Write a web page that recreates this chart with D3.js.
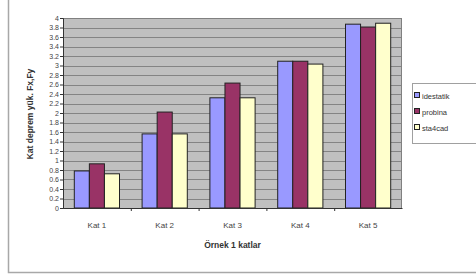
<!DOCTYPE html>
<html><head><meta charset="utf-8">
<script src="https://cdn.jsdelivr.net/npm/d3@7"></script>
<style>body{margin:0;background:#fff;}svg{display:block;font-family:"Liberation Sans",Arial,sans-serif;}</style>
</head><body>
<svg id="c" width="476" height="277"></svg>
<script>
const categories = ["Kat 1","Kat 2","Kat 3","Kat 4","Kat 5"];
const seriesNames = ["idestatik","probina","sta4cad"];
const idestatik = [0.78, 1.56, 2.32, 3.09, 3.87];
const probina   = [0.93, 2.02, 2.63, 3.09, 3.81];
const sta4cad   = [0.72, 1.56, 2.32, 3.03, 3.89];
const yTicks = [0,0.2,0.4,0.6,0.8,1,1.2,1.4,1.6,1.8,2,2.2,2.4,2.6,2.8,3,3.2,3.4,3.6,3.8,4];
const colors = ["#9999FF","#993366","#FFFFCC"];
const yTitle = "Kat deprem yük. Fx,Fy";
const xTitle = "Örnek 1 katlar";

const svg = d3.select("#c");
// outer chart border
svg.append("rect").attr("x",8.5).attr("y",-3).attr("width",480).attr("height",275.5)
  .attr("fill","#fff").attr("stroke","#a8a8a8").attr("stroke-width",1.5);

const L=63, T=18, R=402, B=208;
const x = d3.scaleBand().domain(categories).range([L,R]).paddingInner(0).paddingOuter(0);
const y = d3.scaleLinear().domain([0,4]).range([B,T]);

svg.append("rect").attr("x",L).attr("y",T).attr("width",R-L).attr("height",B-T).attr("fill","#C0C0C0");
svg.append("g").selectAll("line").data(yTicks.slice(1)).join("line")
  .attr("x1",L).attr("x2",R).attr("y1",d=>Math.round(y(d))+0.5).attr("y2",d=>Math.round(y(d))+0.5)
  .attr("stroke","#848484").attr("stroke-width",1);
svg.append("rect").attr("x",L+0.5).attr("y",T+0.5).attr("width",R-L-1).attr("height",B-T)
  .attr("fill","none").attr("stroke","#808080");

const data = [idestatik, probina, sta4cad];
const bw = x.bandwidth()/4.5;
const gx = d3.scaleBand().domain(d3.range(3)).range([0, bw*3]);
const g = svg.append("g");
data.forEach((vals,si)=>{
  g.selectAll(null).data(vals).join("rect")
    .attr("x",(d,i)=>x(categories[i]) + x.bandwidth()*0.5 - bw*1.5 + gx(si))
    .attr("y",d=>y(d)).attr("width",gx.bandwidth()).attr("height",d=>B-y(d))
    .attr("fill",colors[si]).attr("stroke","#222").attr("stroke-width",1);
});

// axes
const yAxis = d3.axisLeft(y).tickValues(yTicks).tickSize(3).tickFormat(d=>String(d));
const ya = svg.append("g").attr("transform",`translate(${L},0)`).call(yAxis);
ya.select(".domain").attr("stroke","#333");
ya.selectAll(".tick line").attr("stroke","#333");
ya.selectAll("text").attr("font-size",7).attr("fill","#444").attr("x",-4);

const xAxis = d3.axisBottom(x).tickSize(0);
const xa = svg.append("g").attr("transform",`translate(0,${B})`).call(xAxis);
xa.select(".domain").attr("stroke","#333");
xa.selectAll("text").attr("font-size",8).attr("fill","#444").attr("dy","1.05em").attr("y",12);
svg.append("g").selectAll("line").data(categories.slice(1)).join("line")
  .attr("x1",d=>x(d)+0.5).attr("x2",d=>x(d)+0.5).attr("y1",B).attr("y2",B+3).attr("stroke","#333");

svg.append("text").attr("x",(L+R)/2).attr("y",248).attr("text-anchor","middle")
  .attr("font-size",8.5).attr("font-weight","bold").attr("fill","#333").text(xTitle);
svg.append("text").attr("transform","translate(33,114) rotate(-90)").attr("text-anchor","middle")
  .attr("font-size",8.5).attr("font-weight","bold").attr("fill","#333").text(yTitle);

// legend
const lg = svg.append("g");
lg.append("rect").attr("x",412.5).attr("y",83.5).attr("width",70).attr("height",60)
  .attr("fill","#fff").attr("stroke","#a0a0a0");
seriesNames.forEach((n,i)=>{
  const yy = 96 + i*16;
  lg.append("rect").attr("x",414.5).attr("y",yy-3.5).attr("width",5).attr("height",5)
    .attr("fill",colors[i]).attr("stroke","#222");
  lg.append("text").attr("x",422).attr("y",yy+2.5).attr("font-size",7.5).attr("fill","#333").text(n);
});
</script>
</body></html>
